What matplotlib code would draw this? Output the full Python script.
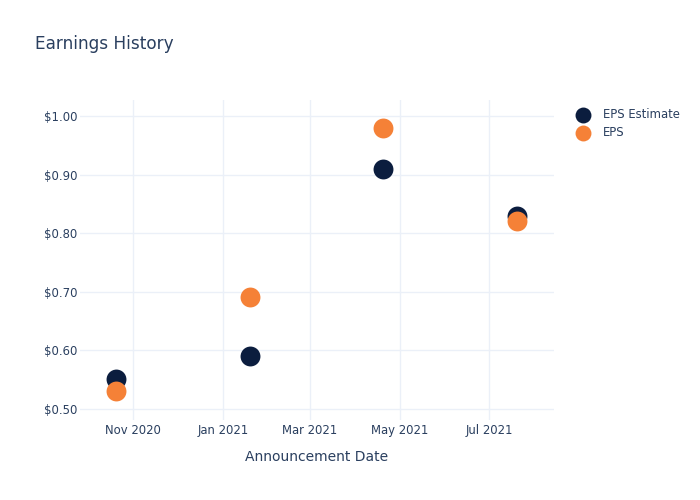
import numpy as np
import matplotlib
matplotlib.use("Agg")
import matplotlib.pyplot as plt
import matplotlib.dates as mdates
from matplotlib.ticker import FuncFormatter
from datetime import datetime

plt.rcParams['font.family'] = ['DejaVu Sans']

# data
dates = ["2020-10-20", "2021-01-19", "2021-04-20", "2021-07-20"]
eps_estimate = [0.55, 0.59, 0.91, 0.83]
eps_actual = [0.53, 0.69, 0.98, 0.82]
x_ticks = ["2020-11-01", "2021-01-01", "2021-03-01", "2021-05-01", "2021-07-01"]
y_ticks = [0.50, 0.60, 0.70, 0.80, 0.90, 1.00]

txt = '#2a3f5f'
grid = '#ebf0f8'
navy = '#0b1d3e'
orange = '#f58137'

d = [datetime.strptime(s, "%Y-%m-%d") for s in dates]
xt = [datetime.strptime(s, "%Y-%m-%d") for s in x_ticks]

fig = plt.figure(figsize=(7, 5), dpi=100)
ax = fig.add_axes([80/700, 80/500, 474/700, 320/500])

ax.scatter(d, eps_estimate, s=205, color=navy, linewidths=0, zorder=3, label='EPS Estimate')
ax.scatter(d, eps_actual, s=205, color=orange, linewidths=0, zorder=4, label='EPS')

ax.set_xlim(datetime(2020, 9, 25, 18), datetime(2021, 8, 14))
ax.set_ylim(0.4807, 1.0274)
ax.set_xticks(xt)
ax.xaxis.set_major_formatter(mdates.DateFormatter('%b %Y'))
ax.set_yticks(y_ticks)
ax.yaxis.set_major_formatter(FuncFormatter(lambda v, p: '$%.2f' % v))

for s in ax.spines.values():
  s.set_visible(False)
ax.grid(True, color=grid, linewidth=1)
ax.set_axisbelow(True)
ax.tick_params(length=0, labelsize=8.4, labelcolor=txt)
ax.tick_params(axis='x', pad=3)
ax.tick_params(axis='y', pad=2)

ax.set_xlabel('Announcement Date', fontsize=10, color=txt, labelpad=9)
fig.text(35/700, 1 - 44/500, 'Earnings History', fontsize=12.2, color=txt, va='center', ha='left')

fig.legend(loc='upper left', bbox_to_anchor=(571/700, 1 - 108/500), frameon=False,
           fontsize=8.4, labelcolor=txt, handletextpad=0.75, markerscale=0.8,
           labelspacing=0.45, borderaxespad=0, borderpad=0)

plt.savefig('out.png', dpi=100)
